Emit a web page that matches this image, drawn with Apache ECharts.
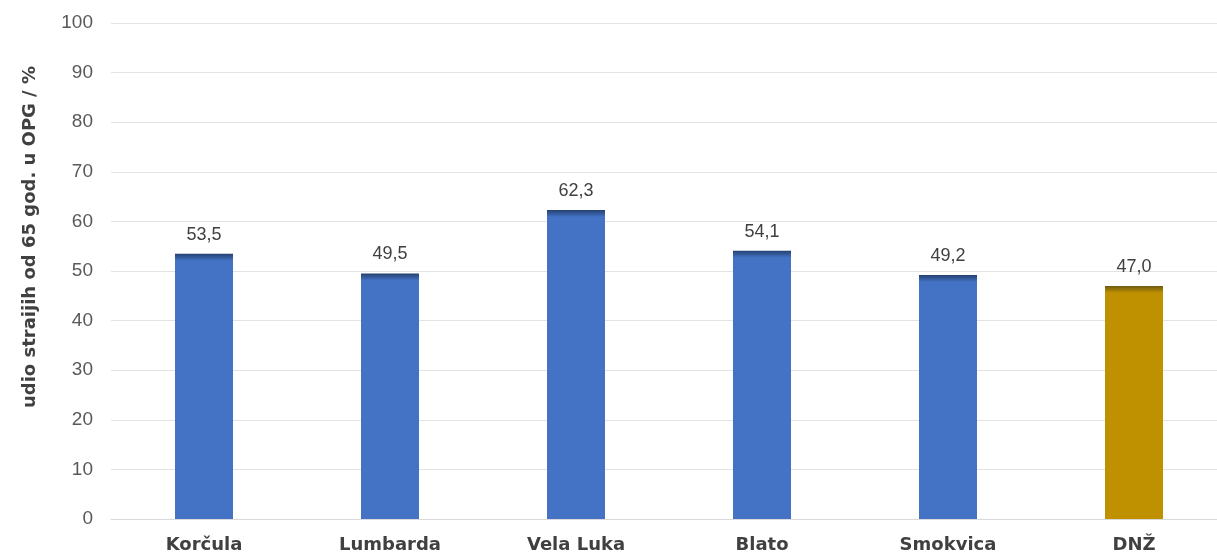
<!DOCTYPE html>
<html><head><meta charset="utf-8">
<script src="https://cdn.jsdelivr.net/npm/echarts@6/dist/echarts.min.js"></script>
<style>html,body{margin:0;padding:0;background:#fff;overflow:hidden;width:1217px;height:555px}#c{width:1227px;height:555px}</style>
</head><body><div id="c"></div>
<script>
const categories = ['Korčula','Lumbarda','Vela Luka','Blato','Smokvica','DNŽ'];
const values = [53.5, 49.5, 62.3, 54.1, 49.2, 47.0];
const yTicks = {min: 0, max: 100, interval: 10};
const axisTitle = 'udio straijih od 65 god. u OPG / %';

const plotH = 496;
function barStyle(v, i) {
  const gold = i === categories.length - 1;
  const base = gold ? '#BF9000' : '#4472C4';
  const dark = gold ? '#6b5a10' : '#24406f';
  const off = Math.min(0.5, 7 / (v / 100 * plotH));
  return {
    color: new echarts.graphic.LinearGradient(0, 0, 0, 1, [
      {offset: 0, color: dark},
      {offset: off, color: base},
      {offset: 1, color: base}
    ])
  };
}
const chart = echarts.init(document.getElementById('c'), null, {renderer: 'canvas'});
chart.setOption({
  animation: false,
  grid: {left: 111, right: 0, top: 23, bottom: 36},
  xAxis: {
    type: 'category', data: categories,
    axisLine: {lineStyle: {color: '#d9d9d9'}},
    axisTick: {show: false},
    axisLabel: {color: '#404040', fontSize: 18, fontWeight: 'bold', fontFamily: 'DejaVu Sans', margin: 17}
  },
  yAxis: {
    type: 'value', min: yTicks.min, max: yTicks.max, interval: yTicks.interval,
    name: axisTitle, nameLocation: 'middle', nameGap: 72,
    nameTextStyle: {color: '#404040', fontSize: 18, fontWeight: 'bold', fontFamily: 'DejaVu Sans', padding: [0, 0, 0, 68]},
    axisLabel: {color: '#595959', fontSize: 19, fontFamily: 'Liberation Sans, Arial', margin: 18},
    splitLine: {lineStyle: {color: '#e3e3e3'}},
    axisLine: {show: false}, axisTick: {show: false}
  },
  series: [{
    type: 'bar', barWidth: 58,
    data: values.map((v, i) => ({value: v, itemStyle: barStyle(v, i)})),
    label: {
      show: true, position: 'top', distance: 10, color: '#404040', fontSize: 18,
      fontFamily: 'Liberation Sans, Arial',
      formatter: p => p.value.toFixed(1).replace('.', ',')
    }
  }]
});
</script></body></html>
